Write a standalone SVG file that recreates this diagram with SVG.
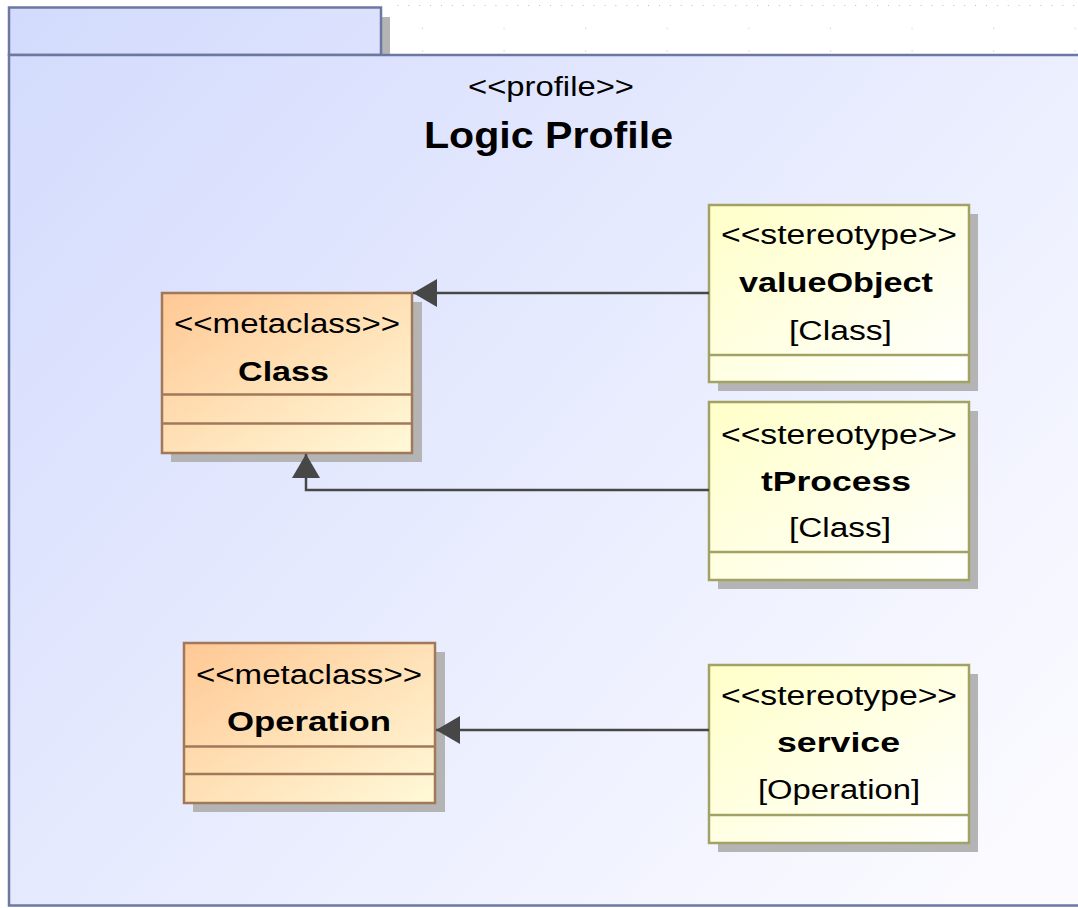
<svg xmlns="http://www.w3.org/2000/svg" width="1078" height="908" viewBox="0 0 1078 908">
  <defs>
    <linearGradient id="pkgFill" gradientUnits="userSpaceOnUse" x1="9" y1="7" x2="1000" y2="905">
      <stop offset="0" stop-color="#d3dbfd"/>
      <stop offset="1" stop-color="#fbfbff"/>
    </linearGradient>
    <linearGradient id="metaFill" x1="0" y1="0" x2="1" y2="1">
      <stop offset="0" stop-color="#ffc894"/>
      <stop offset="1" stop-color="#fff9d8"/>
    </linearGradient>
    <linearGradient id="stereoFill" x1="0" y1="0" x2="1" y2="1">
      <stop offset="0" stop-color="#ffffc8"/>
      <stop offset="1" stop-color="#ffffff"/>
    </linearGradient>
    <pattern id="gridFine" x="0" y="0" width="10.9" height="60" patternUnits="userSpaceOnUse">
      <rect x="5" y="5" width="1" height="1" fill="#b8b8b8"/>
    </pattern>
    <pattern id="gridCoarse" x="0" y="0" width="81.6" height="22.5" patternUnits="userSpaceOnUse">
      <rect x="14" y="5.5" width="1" height="1" fill="#b8b8b8"/>
    </pattern>
    <!-- filled triangle head for extension arrows, tip at the path end -->
    <marker id="genArrow" viewBox="0 0 24 28" refX="24" refY="14" markerWidth="24" markerHeight="28" markerUnits="userSpaceOnUse" orient="auto">
      <path d="M0,0 L24,14 L0,28 Z" fill="#474747"/>
    </marker>
  </defs>
  <style>
    .pkg { fill: url(#pkgFill); stroke: #6c78a2; stroke-width: 2.5; }
    .shadow { fill: #b4b4b4; }
    .meta { fill: url(#metaFill); stroke: #a2785a; stroke-width: 2.5; }
    .stereo { fill: url(#stereoFill); stroke: #a2a266; stroke-width: 2.5; }
    .metaLine { stroke: #a2785a; stroke-width: 2.5; }
    .stereoLine { stroke: #a2a266; stroke-width: 2.5; }
    .edge { fill: none; stroke: #474747; stroke-width: 2.5; }
    text { font-family: "Liberation Sans", Arial, sans-serif; fill: #000; text-anchor: start; }
    .st { font-size: 27px; }
    .nm { font-size: 28px; font-weight: bold; }
    .title { font-size: 37px; font-weight: bold; }
  </style>

  <!-- canvas grid in the free area above the package -->
  <rect x="390" y="0" width="688" height="12" fill="url(#gridFine)"/>
  <rect x="390" y="18" width="688" height="36" fill="url(#gridCoarse)"/>

  <!-- package frame -->
  <g id="pkg-logic-profile">
    <rect class="shadow" x="381" y="17" width="9" height="38"/>
    <rect class="pkg" x="9" y="7.5" width="372" height="47.5"/>
    <rect class="pkg" x="9" y="55" width="1090" height="850.5"/>
    <text class="st" x="468" y="96" textLength="166" lengthAdjust="spacingAndGlyphs">&lt;&lt;profile&gt;&gt;</text>
    <text class="title" x="424" y="148" textLength="249" lengthAdjust="spacingAndGlyphs">Logic Profile</text>
  </g>

  <!-- metaclass Class -->
  <g id="meta-class">
    <rect class="shadow" x="171" y="302" width="251" height="160"/>
    <rect class="meta" x="162" y="293" width="250" height="160"/>
    <line class="metaLine" x1="162" y1="394.5" x2="412" y2="394.5"/>
    <line class="metaLine" x1="162" y1="423.5" x2="412" y2="423.5"/>
    <text class="st" x="174" y="333" textLength="226" lengthAdjust="spacingAndGlyphs">&lt;&lt;metaclass&gt;&gt;</text>
    <text class="nm" x="238" y="381" textLength="91" lengthAdjust="spacingAndGlyphs">Class</text>
  </g>

  <!-- metaclass Operation -->
  <g id="meta-operation">
    <rect class="shadow" x="193" y="652" width="252" height="160"/>
    <rect class="meta" x="184" y="643" width="251" height="160"/>
    <line class="metaLine" x1="184" y1="746.5" x2="435" y2="746.5"/>
    <line class="metaLine" x1="184" y1="774" x2="435" y2="774"/>
    <text class="st" x="196" y="684" textLength="226" lengthAdjust="spacingAndGlyphs">&lt;&lt;metaclass&gt;&gt;</text>
    <text class="nm" x="227" y="731" textLength="164" lengthAdjust="spacingAndGlyphs">Operation</text>
  </g>

  <!-- stereotype valueObject -->
  <g id="st-valueobject">
    <rect class="shadow" x="718" y="214" width="260" height="177"/>
    <rect class="stereo" x="709" y="205" width="260" height="177"/>
    <line class="stereoLine" x1="709" y1="355" x2="969" y2="355"/>
    <text class="st" x="721" y="244" textLength="236" lengthAdjust="spacingAndGlyphs">&lt;&lt;stereotype&gt;&gt;</text>
    <text class="nm" x="739" y="292" textLength="194" lengthAdjust="spacingAndGlyphs">valueObject</text>
    <text class="st" x="789" y="340" textLength="103" lengthAdjust="spacingAndGlyphs">[Class]</text>
  </g>

  <!-- stereotype tProcess -->
  <g id="st-tprocess">
    <rect class="shadow" x="718" y="411" width="260" height="178"/>
    <rect class="stereo" x="709" y="402" width="260" height="178"/>
    <line class="stereoLine" x1="709" y1="552" x2="969" y2="552"/>
    <text class="st" x="721" y="444" textLength="236" lengthAdjust="spacingAndGlyphs">&lt;&lt;stereotype&gt;&gt;</text>
    <text class="nm" x="761" y="491" textLength="150" lengthAdjust="spacingAndGlyphs">tProcess</text>
    <text class="st" x="789" y="537" textLength="102" lengthAdjust="spacingAndGlyphs">[Class]</text>
  </g>

  <!-- stereotype service -->
  <g id="st-service">
    <rect class="shadow" x="718" y="674" width="260" height="178"/>
    <rect class="stereo" x="709" y="665" width="260" height="178"/>
    <line class="stereoLine" x1="709" y1="815" x2="969" y2="815"/>
    <text class="st" x="721" y="705" textLength="236" lengthAdjust="spacingAndGlyphs">&lt;&lt;stereotype&gt;&gt;</text>
    <text class="nm" x="777" y="752" textLength="123" lengthAdjust="spacingAndGlyphs">service</text>
    <text class="st" x="758" y="799" textLength="162" lengthAdjust="spacingAndGlyphs">[Operation]</text>
  </g>

  <!-- connectors: stereotype extensions to metaclasses, drawn over the box shadows -->
  <g id="connectors">
    <path class="edge" d="M709,293 L413,293" marker-end="url(#genArrow)"/>
    <path class="edge" d="M709,490 L306,490 L306,454" marker-end="url(#genArrow)"/>
    <path class="edge" d="M709,730 L436,730" marker-end="url(#genArrow)"/>
  </g>
</svg>
